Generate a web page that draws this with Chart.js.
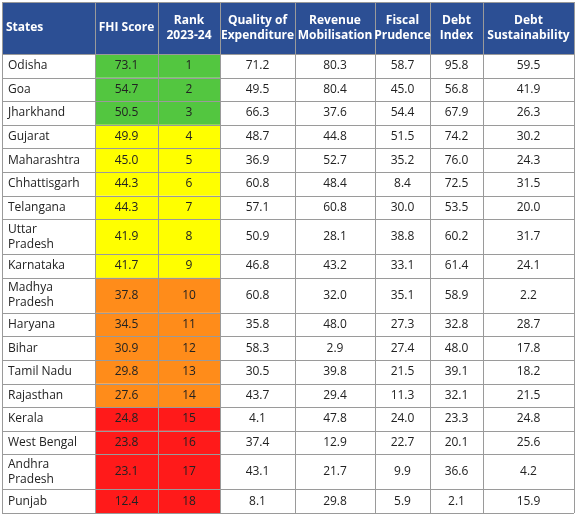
<!DOCTYPE html>
<html>
<head>
<meta charset="utf-8">
<script src="https://cdn.jsdelivr.net/npm/chart.js@4.4.0/dist/chart.umd.min.js"></script>
<style>
body{margin:0;background:#fff;}
canvas{display:block;}
</style>
</head>
<body>
<canvas id="tbl" width="576" height="519"></canvas>
<script>
const states = ["Odisha","Goa","Jharkhand","Gujarat","Maharashtra","Chhattisgarh","Telangana","Uttar\nPradesh","Karnataka","Madhya\nPradesh","Haryana","Bihar","Tamil Nadu","Rajasthan","Kerala","West Bengal","Andhra\nPradesh","Punjab"];
const fhiScore = [73.1,54.7,50.5,49.9,45.0,44.3,44.3,41.9,41.7,37.8,34.5,30.9,29.8,27.6,24.8,23.8,23.1,12.4];
const rank = [1,2,3,4,5,6,7,8,9,10,11,12,13,14,15,16,17,18];
const qualityExp = [71.2,49.5,66.3,48.7,36.9,60.8,57.1,50.9,46.8,60.8,35.8,58.3,30.5,43.7,4.1,37.4,43.1,8.1];
const revenueMob = [80.3,80.4,37.6,44.8,52.7,48.4,60.8,28.1,43.2,32.0,48.0,2.9,39.8,29.4,47.8,12.9,21.7,29.8];
const fiscalPru = [58.7,45.0,54.4,51.5,35.2,8.4,30.0,38.8,33.1,35.1,27.3,27.4,21.5,11.3,24.0,22.7,9.9,5.9];
const debtIndex = [95.8,56.8,67.9,74.2,76.0,72.5,53.5,60.2,61.4,58.9,32.8,48.0,39.1,32.1,23.3,20.1,36.6,2.1];
const debtSust = [59.5,41.9,26.3,30.2,24.3,31.5,20.0,31.7,24.1,2.2,28.7,17.8,18.2,21.5,24.8,25.6,4.2,15.9];
const headers = ["States","FHI Score","Rank\n2023-24","Quality of\nExpenditure","Revenue\nMobilisation","Fiscal\nPrudence","Debt\nIndex","Debt\nSustainability"];

const colWidths = [93,63,62,75,80,55,53,91];
const headerH = 52, rowH = 23.6, rowH2 = 35;
const colEdges = [0];
colWidths.forEach(w => colEdges.push(colEdges[colEdges.length-1] + w));
const rowEdges = [0, headerH];
states.forEach(s => rowEdges.push(rowEdges[rowEdges.length-1] + (s.includes("\n") ? rowH2 : rowH)));

function bandColor(r){
    if(r<=3) return "#53c640";
    if(r<=9) return "#ffff00";
    if(r<=14) return "#ff8c1a";
    return "#ff1a1a";
}

const tablePlugin = {
    id:"table",
    afterDraw(chart){
        const ctx = chart.ctx, xs = chart.scales.x, ys = chart.scales.y;
        const X = v => xs.getPixelForValue(v), Y = v => ys.getPixelForValue(v);
        const cols = [states, fhiScore, rank, qualityExp, revenueMob, fiscalPru, debtIndex, debtSust];
        ctx.save();
        // header
        ctx.fillStyle = "#2c4f94";
        ctx.fillRect(X(0), Y(0), X(colEdges[8])-X(0), Y(headerH)-Y(0));
        // coloured cells
        rank.forEach((r,i) => {
            ctx.fillStyle = bandColor(r);
            ctx.fillRect(X(colEdges[1]), Y(rowEdges[i+1]), X(colEdges[3])-X(colEdges[1]), Y(rowEdges[i+2])-Y(rowEdges[i+1]));
        });
        // grid
        ctx.strokeStyle = "#9a9a9a";
        ctx.lineWidth = 1;
        rowEdges.forEach(e => {
            ctx.beginPath(); ctx.moveTo(X(0), Math.round(Y(e))+0.5); ctx.lineTo(X(colEdges[8]), Math.round(Y(e))+0.5); ctx.stroke();
        });
        colEdges.forEach(e => {
            ctx.beginPath(); ctx.moveTo(Math.round(X(e))+0.5, Y(0)); ctx.lineTo(Math.round(X(e))+0.5, Y(rowEdges[rowEdges.length-1])); ctx.stroke();
        });
        // header text
        ctx.fillStyle = "#fff";
        ctx.font = "bold 12px 'Open Sans', sans-serif";
        ctx.textBaseline = "middle";
        headers.forEach((h,c) => {
            const lines = h.split("\n");
            const cy = (Y(0)+Y(headerH))/2;
            lines.forEach((ln,k) => {
                const yy = cy + (k - (lines.length-1)/2)*15;
                if(c===0){ ctx.textAlign="left"; ctx.fillText(ln, X(colEdges[0])+4, yy); }
                else { ctx.textAlign="center"; ctx.fillText(ln, (X(colEdges[c])+X(colEdges[c+1]))/2, yy); }
            });
        });
        // body text
        ctx.fillStyle = "#222";
        ctx.font = "12px 'Open Sans', sans-serif";
        states.forEach((s,i) => {
            const cy = (Y(rowEdges[i+1])+Y(rowEdges[i+2]))/2;
            cols.forEach((col,c) => {
                if(c===0){
                    const lines = s.split("\n");
                    ctx.textAlign="left";
                    lines.forEach((ln,k) => ctx.fillText(ln, X(colEdges[0])+6, cy + (k-(lines.length-1)/2)*15));
                } else {
                    const v = col[i];
                    ctx.textAlign="center";
                    ctx.fillText(c===2 ? String(v) : v.toFixed(1), (X(colEdges[c])+X(colEdges[c+1]))/2, cy);
                }
            });
        });
        ctx.restore();
    }
};

new Chart(document.getElementById("tbl"), {
    type:"scatter",
    data:{datasets:[{data:[], pointRadius:0}]},
    options:{
        responsive:false,
        animation:false,
        layout:{padding:{left:2,right:2,top:2,bottom:519-2-rowEdges[rowEdges.length-1]}},
        plugins:{legend:{display:false}, tooltip:{enabled:false}},
        scales:{
            x:{type:"linear", min:0, max:colEdges[8], display:false},
            y:{type:"linear", min:0, max:rowEdges[rowEdges.length-1], reverse:true, display:false}
        }
    },
    plugins:[tablePlugin]
});
</script>
</body>
</html>
